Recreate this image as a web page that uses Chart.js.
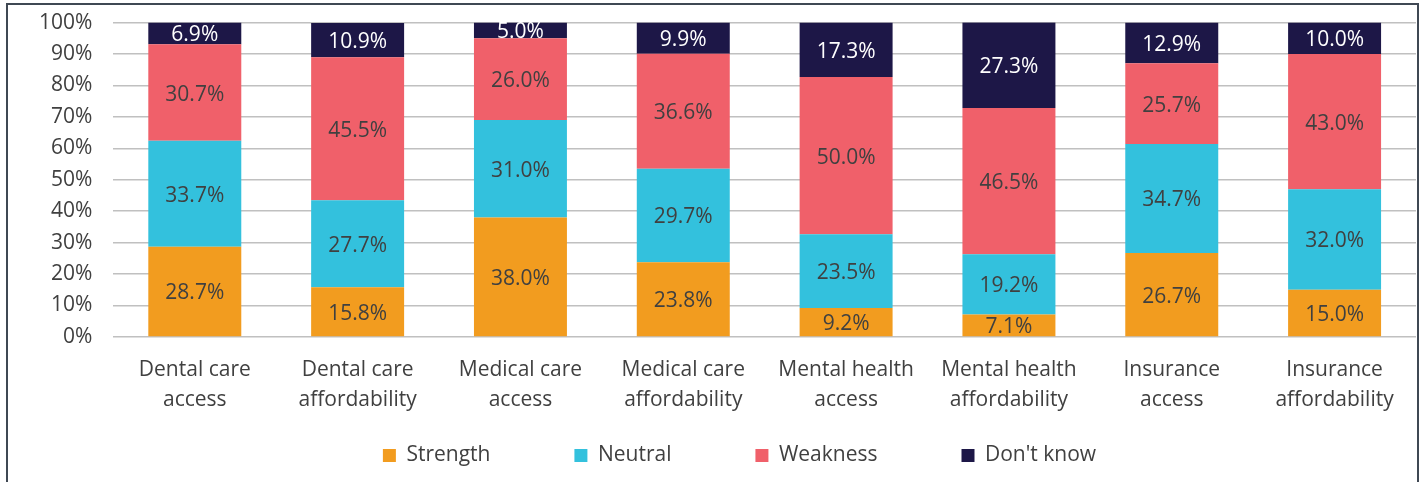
<!DOCTYPE html>
<html>
<head>
<meta charset="utf-8">
<script src="https://cdn.jsdelivr.net/npm/chart.js@4"></script>
<style>
  html, body { margin: 0; padding: 0; background: #fff; }
  #wrap { position: relative; width: 1420px; height: 482px; overflow: hidden; }
  #frame {
    position: absolute; left: 6px; top: 3px; width: 1409px; height: 520px;
    border: 2px solid #3f4853; pointer-events: none;
  }
  canvas { position: absolute; left: 0; top: 0; }
</style>
</head>
<body>
<div id="wrap">
  <canvas id="chart" width="1420" height="482"></canvas>
  <div id="frame"></div>
</div>
<script>
const categories = [
  ['Dental care', 'access'],
  ['Dental care', 'affordability'],
  ['Medical care', 'access'],
  ['Medical care', 'affordability'],
  ['Mental health', 'access'],
  ['Mental health', 'affordability'],
  ['Insurance', 'access'],
  ['Insurance', 'affordability']
];
const strength = [28.7, 15.8, 38.0, 23.8, 9.2, 7.1, 26.7, 15.0];
const neutral = [33.7, 27.7, 31.0, 29.7, 23.5, 19.2, 34.7, 32.0];
const weakness = [30.7, 45.5, 26.0, 36.6, 50.0, 46.5, 25.7, 43.0];
const dontKnow = [6.9, 10.9, 5.0, 9.9, 17.3, 27.3, 12.9, 10.0];

const FONT = "'Open Sans', sans-serif";
const TEXT = '#404040';
const LEGEND_GAP = 84;     // horizontal gap between legend items
const LEGEND_SHRINK = 74;  // legend padding is also used vertically, so reserve less room...
const LEGEND_LIFT = 72;    // ...and pull the items back up when drawing
const LEGEND_SHIFT = 17;   // legend is centred a bit right of the canvas middle

// labels inside every bar segment
const barLabels = {
    id: 'barLabels',
    afterDatasetsDraw(chart) {
        const ctx = chart.ctx;
        ctx.save();
        ctx.font = '21px ' + FONT;
        ctx.textAlign = 'center';
        ctx.textBaseline = 'middle';
        chart.data.datasets.forEach((ds, i) => {
            const meta = chart.getDatasetMeta(i);
            meta.data.forEach((bar, j) => {
                ctx.fillStyle = ds.labelColor;
                ctx.fillText(ds.data[j].toFixed(1) + '%', bar.x, (bar.y + bar.base) / 2 + 2);
            });
        });
        ctx.restore();
    }
};

const ctx = document.getElementById('chart').getContext('2d');
const chart = new Chart(ctx, {
    type: 'bar',
    data: {
        labels: categories,
        datasets: [
            { label: 'Strength', data: strength, backgroundColor: '#f29c1f', labelColor: TEXT },
            { label: 'Neutral', data: neutral, backgroundColor: '#33c1dd', labelColor: TEXT },
            { label: 'Weakness', data: weakness, backgroundColor: '#f0606a', labelColor: TEXT },
            { label: "Don't know", data: dontKnow, backgroundColor: '#1d1747', labelColor: '#ffffff' }
        ]
    },
    options: {
        responsive: false,
        animation: false,
        layout: { padding: { left: 29, right: 4, top: 2, bottom: 8 } },
        datasets: {
            bar: { categoryPercentage: 1, barPercentage: 0.571 }
        },
        scales: {
            x: {
                stacked: true,
                grid: { display: false, drawTicks: false },
                border: { display: false },
                ticks: {
                    color: TEXT,
                    padding: 18,
                    maxRotation: 0,
                    autoSkip: false,
                    font: { family: FONT, size: 21, lineHeight: 1.43 }
                }
            },
            y: {
                stacked: true,
                min: 0,
                max: 100,
                grid: {
                    color: '#c0c0c0',
                    lineWidth: 1.5,
                    drawTicks: true,
                    tickLength: 11,
                    tickColor: 'rgba(0,0,0,0)'
                },
                border: { display: false },
                ticks: {
                    stepSize: 10,
                    color: TEXT,
                    padding: 10,
                    font: { family: FONT, size: 21 },
                    callback: v => v + '%'
                }
            }
        },
        plugins: {
            legend: {
                position: 'bottom',
                labels: {
                    color: TEXT,
                    boxWidth: 13,
                    boxHeight: 13,
                    padding: LEGEND_GAP,
                    font: { family: FONT, size: 21 }
                }
            },
            tooltip: { enabled: false }
        }
    },
    plugins: [barLabels]
});

const legend = chart.legend;
const origFit = legend.fit;
legend.fit = function () {
    origFit.call(this);
    this.height -= LEGEND_SHRINK;
};
const origDraw = legend.draw;
legend.draw = function () {
    this.top -= LEGEND_LIFT;
    this.left += LEGEND_SHIFT;
    this.right += LEGEND_SHIFT;
    origDraw.call(this);
    this.top += LEGEND_LIFT;
    this.left -= LEGEND_SHIFT;
    this.right -= LEGEND_SHIFT;
};
chart.update();
</script>
</body>
</html>
